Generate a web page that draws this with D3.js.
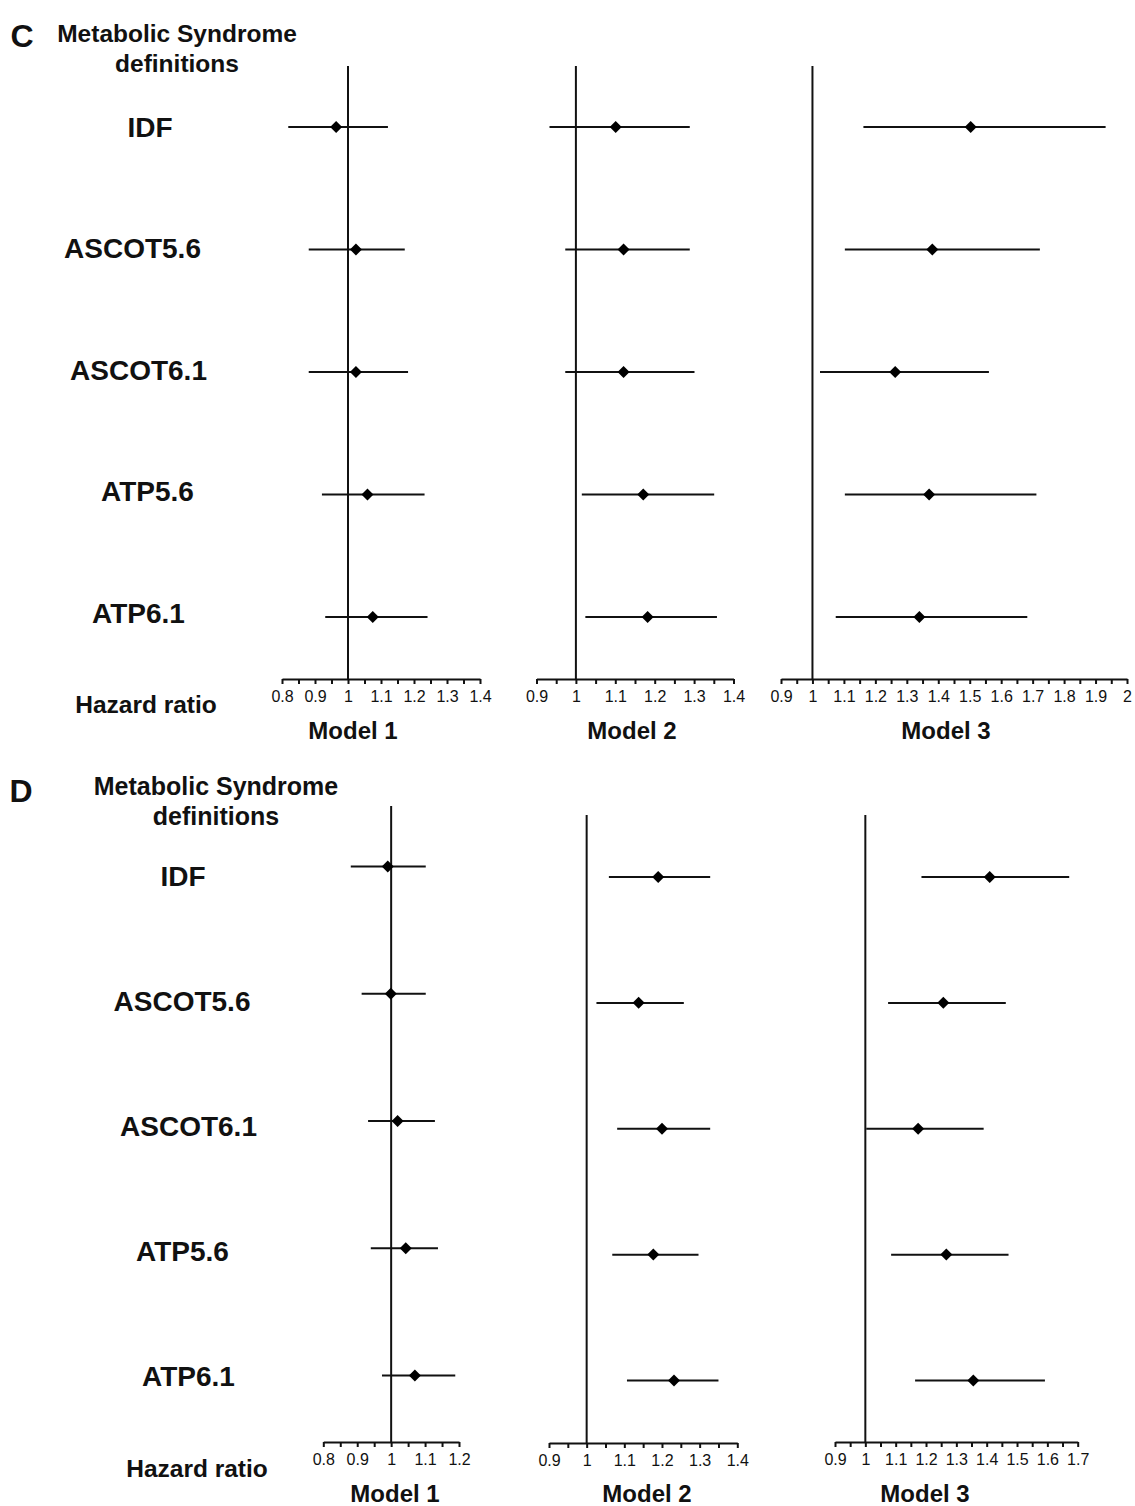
<!DOCTYPE html>
<html>
<head>
<meta charset="utf-8">
<script src="https://cdn.jsdelivr.net/npm/d3@7"></script>
<style>
  body { margin: 0; background: #fff; }
  text { font-family: "Liberation Sans", Arial, Helvetica, sans-serif; fill: #111; }
  .bold { font-weight: bold; }
  .axis path, .axis line { stroke: #111; stroke-width: 2; }
  .axis text { font-size: 16px; }
</style>
</head>
<body>
<svg width="1135" height="1506"></svg>
<script>
// row categories
var definitions = ["IDF", "ASCOT5.6", "ASCOT6.1", "ATP5.6", "ATP6.1"];
var modelNames = ["Model 1", "Model 2", "Model 3"];

// panel C hazard ratios (point, lower, upper)
var cM1_hr = [0.964, 1.024, 1.024, 1.059, 1.075];
var cM1_lo = [0.819, 0.881, 0.881, 0.921, 0.931];
var cM1_hi = [1.121, 1.172, 1.182, 1.232, 1.241];
var cM2_hr = [1.101, 1.121, 1.121, 1.171, 1.182];
var cM2_lo = [0.933, 0.973, 0.973, 1.015, 1.024];
var cM2_hi = [1.289, 1.289, 1.301, 1.351, 1.358];
var cM3_hr = [1.503, 1.381, 1.263, 1.371, 1.340];
var cM3_lo = [1.162, 1.103, 1.024, 1.103, 1.074];
var cM3_hi = [1.932, 1.723, 1.561, 1.712, 1.683];

// panel D hazard ratios
var dM1_hr = [0.990, 0.999, 1.019, 1.043, 1.070];
var dM1_lo = [0.881, 0.913, 0.932, 0.940, 0.973];
var dM1_hi = [1.102, 1.102, 1.129, 1.138, 1.189];
var dM2_hr = [1.190, 1.138, 1.200, 1.177, 1.232];
var dM2_lo = [1.059, 1.026, 1.081, 1.068, 1.107];
var dM2_hi = [1.328, 1.258, 1.328, 1.297, 1.350];
var dM3_hr = [1.410, 1.257, 1.174, 1.267, 1.356];
var dM3_lo = [1.185, 1.075, 1.003, 1.085, 1.164];
var dM3_hi = [1.672, 1.463, 1.390, 1.472, 1.592];

// tick labels
var cM1_ticks = ["0.8", "0.9", "1", "1.1", "1.2", "1.3", "1.4"];
var cM2_ticks = ["0.9", "1", "1.1", "1.2", "1.3", "1.4"];
var cM3_ticks = ["0.9", "1", "1.1", "1.2", "1.3", "1.4", "1.5", "1.6", "1.7", "1.8", "1.9", "2"];
var dM1_ticks = ["0.8", "0.9", "1", "1.1", "1.2"];
var dM2_ticks = ["0.9", "1", "1.1", "1.2", "1.3", "1.4"];
var dM3_ticks = ["0.9", "1", "1.1", "1.2", "1.3", "1.4", "1.5", "1.6", "1.7"];

var svg = d3.select("svg");

function rows(hr, lo, hi) {
  return definitions.map(function(d, i) { return {def: d, hr: hr[i], lo: lo[i], hi: hi[i]}; });
}

// layout of each panel
var panels = [
  {letter: "C", letterPos: [22, 36], head: [177, 33], headSize: 24.5, hazard: [146, 704],
   labelX: [150, 132.5, 138.5, 147.5, 138.5], labelRows: [127, 613], titleY: 731,
   models: [
     {data: rows(cM1_hr, cM1_lo, cM1_hi), ticks: cM1_ticks, x: [282, 480], axisY: 679, top: 66, rowY: [127, 617], titleX: 353},
     {data: rows(cM2_hr, cM2_lo, cM2_hi), ticks: cM2_ticks, x: [536.5, 733.5], axisY: 679, top: 66, rowY: [127, 617], titleX: 632},
     {data: rows(cM3_hr, cM3_lo, cM3_hi), ticks: cM3_ticks, x: [781, 1127], axisY: 679, top: 66, rowY: [127, 617], titleX: 946}
   ]},
  {letter: "D", letterPos: [21, 791], head: [216, 786], headSize: 25, hazard: [197, 1468],
   labelX: [183, 182, 188.5, 182.5, 188.5], labelRows: [876, 1376], titleY: 1494,
   models: [
     {data: rows(dM1_hr, dM1_lo, dM1_hi), ticks: dM1_ticks, x: [323.3, 459], axisY: 1442, top: 806, rowY: [866.5, 1375.5], titleX: 395},
     {data: rows(dM2_hr, dM2_lo, dM2_hi), ticks: dM2_ticks, x: [549, 737.3], axisY: 1443, top: 815, rowY: [877, 1380.5], titleX: 647},
     {data: rows(dM3_hr, dM3_lo, dM3_hi), ticks: dM3_ticks, x: [835, 1077.7], axisY: 1442, top: 815, rowY: [877, 1380.5], titleX: 925}
   ]}
];

panels.forEach(function(p) {
  svg.append("text")
    .attr("class", "bold")
    .attr("x", p.letterPos[0])
    .attr("y", p.letterPos[1])
    .attr("dy", "0.35em")
    .attr("text-anchor", "middle")
    .style("font-size", "32px")
    .text(p.letter);

  svg.append("text")
    .attr("class", "bold")
    .attr("x", p.head[0])
    .attr("y", p.head[1])
    .attr("dy", "0.35em")
    .attr("text-anchor", "middle")
    .style("font-size", p.headSize + "px")
    .text("Metabolic Syndrome");

  svg.append("text")
    .attr("class", "bold")
    .attr("x", p.head[0])
    .attr("y", p.head[1] + 30)
    .attr("dy", "0.35em")
    .attr("text-anchor", "middle")
    .style("font-size", p.headSize + "px")
    .text("definitions");

  svg.append("text")
    .attr("class", "bold")
    .attr("x", p.hazard[0])
    .attr("y", p.hazard[1])
    .attr("dy", "0.35em")
    .attr("text-anchor", "middle")
    .style("font-size", "24.5px")
    .text("Hazard ratio");

  var labelScale = d3.scalePoint().domain(definitions).range(p.labelRows);
  svg.selectAll(null)
    .data(definitions)
    .enter()
    .append("text")
    .attr("class", "bold")
    .attr("x", (d, i)=>p.labelX[i])
    .attr("y", (d)=>labelScale(d))
    .attr("dy", "0.35em")
    .attr("text-anchor", "middle")
    .style("font-size", "28px")
    .text((d)=>d);

  p.models.forEach(function(m, mi) {
    var lo = +m.ticks[0], hi = +m.ticks[m.ticks.length - 1];
    var xScale = d3.scaleLinear().domain([lo, hi]).range(m.x);
    var yScale = d3.scalePoint().domain(definitions).range(m.rowY);

    // minor ticks every 0.05, labels on the listed values
    var tickVals = d3.range(Math.round(lo * 20), Math.round(hi * 20) + 1).map((k)=>k / 20);
    var g = svg.append("g");

    g.append("g")
      .attr("class", "axis")
      .attr("transform", "translate(0," + m.axisY + ")")
      .call(d3.axisBottom(xScale)
        .tickValues(tickVals)
        .tickSize(5)
        .tickSizeOuter(0)
        .tickPadding(7)
        .tickFormat(function(v) {
          var t = m.ticks.find((s)=>Math.abs(+s - v) < 1e-6);
          return t ? t : "";
        }))
      .call((a)=>a.selectAll("text").attr("fill", "#111"));

    // reference line at HR = 1
    g.append("line")
      .attr("x1", xScale(1)).attr("x2", xScale(1))
      .attr("y1", m.top).attr("y2", m.axisY)
      .attr("stroke", "#111")
      .attr("stroke-width", 2);

    g.selectAll(".ci")
      .data(m.data)
      .enter()
      .append("line")
      .attr("class", "ci")
      .attr("x1", (d)=>xScale(d.lo))
      .attr("x2", (d)=>xScale(d.hi))
      .attr("y1", (d)=>yScale(d.def))
      .attr("y2", (d)=>yScale(d.def))
      .attr("stroke", "#111")
      .attr("stroke-width", 2);

    g.selectAll(".pt")
      .data(m.data)
      .enter()
      .append("path")
      .attr("class", "pt")
      .attr("d", d3.symbol().type(d3.symbolSquare).size(72))
      .attr("transform", (d)=>"translate(" + xScale(d.hr) + "," + yScale(d.def) + ") rotate(45)")
      .attr("fill", "#000");

    svg.append("text")
      .attr("class", "bold")
      .attr("x", m.titleX)
      .attr("y", p.titleY)
      .attr("dy", "0.35em")
      .attr("text-anchor", "middle")
      .style("font-size", "24px")
      .text(modelNames[mi]);
  });
});
</script>
</body>
</html>
